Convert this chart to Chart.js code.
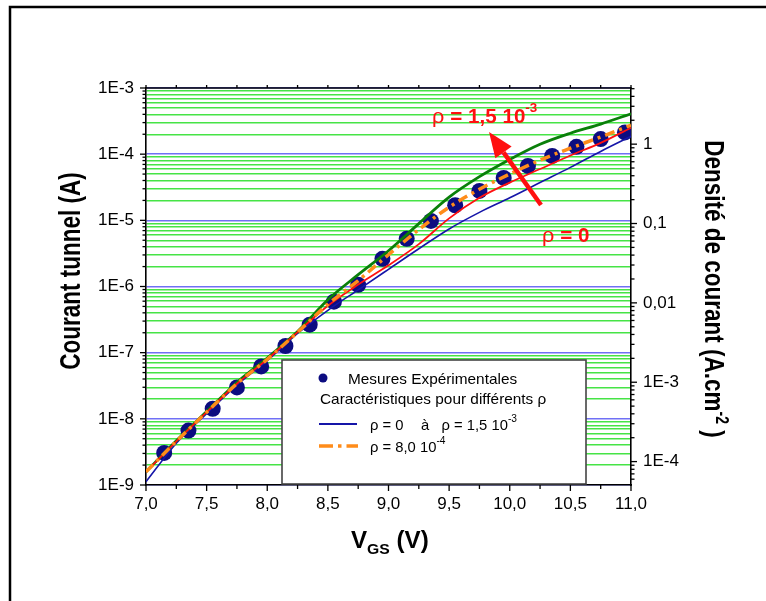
<!DOCTYPE html>
<html>
<head>
<meta charset="utf-8">
<script src="https://cdn.jsdelivr.net/npm/chart.js@4.4.0/dist/chart.umd.min.js"></script>
<style>
  html, body { margin: 0; padding: 0; background: #fff; }
  canvas { display: block; }
</style>
</head>
<body>
<canvas id="chart" width="766" height="601"></canvas>
<script>
// mesures experimentales
const vgsMesures = [7.15, 7.35, 7.55, 7.75, 7.95, 8.15, 8.35, 8.55, 8.75, 8.95, 9.15, 9.35, 9.55, 9.75, 9.95, 10.15, 10.35, 10.55, 10.75, 10.95];
const courantMesures = [3.05e-9, 6.65e-9, 1.42e-8, 2.98e-8, 6.2e-8, 1.26e-7, 2.65e-7, 5.9e-7, 1.06e-6, 2.62e-6, 5.25e-6, 9.8e-6, 1.69e-5, 2.78e-5, 4.38e-5, 6.65e-5, 9.4e-5, 1.29e-4, 1.69e-4, 2.13e-4];

// caracteristiques simulees
const vgsCourbes = [7.0, 7.25, 7.5, 7.75, 8.0, 8.25, 8.5, 8.75, 9.0, 9.25, 9.5, 9.75, 10.0, 10.25, 10.5, 10.75, 11.0];
const courantBleu = [1.12e-9, 4.27e-9, 1.20e-8, 3.24e-8, 7.59e-8, 1.95e-7, 4.37e-7, 8.91e-7, 1.82e-6, 3.72e-6, 7.41e-6, 1.32e-5, 2.19e-5, 3.72e-5, 6.31e-5, 1.10e-4, 1.86e-4];
const courantRho0 = [1.58e-9, 4.57e-9, 1.26e-8, 3.39e-8, 7.94e-8, 2.04e-7, 5.13e-7, 1.07e-6, 2.09e-6, 4.37e-6, 1.07e-5, 2.19e-5, 3.72e-5, 5.96e-5, 9.55e-5, 1.48e-4, 2.51e-4];
const courantRho8 = [1.58e-9, 4.57e-9, 1.26e-8, 3.39e-8, 7.94e-8, 2.04e-7, 5.37e-7, 1.23e-6, 3.02e-6, 7.24e-6, 1.58e-5, 2.95e-5, 5.01e-5, 8.13e-5, 1.23e-4, 1.82e-4, 2.75e-4];
const courantRho15 = [1.58e-9, 4.68e-9, 1.29e-8, 3.55e-8, 8.32e-8, 2.09e-7, 6.31e-7, 1.51e-6, 3.47e-6, 8.91e-6, 2.24e-5, 4.57e-5, 8.32e-5, 1.41e-4, 2.07e-4, 2.85e-4, 4.07e-4];

// axes
const xTickLabels = ["7,0", "7,5", "8,0", "8,5", "9,0", "9,5", "10,0", "10,5", "11,0"];
const yDecades = [1e-9, 1e-8, 1e-7, 1e-6, 1e-5, 1e-4, 1e-3];
const yTickLabels = ["1E-9", "1E-8", "1E-7", "1E-6", "1E-5", "1E-4", "1E-3"];
const y2Decades = [1e-4, 1e-3, 1e-2, 1e-1, 1];
const y2TickLabels = ["1E-4", "1E-3", "0,01", "0,1", "1"];

const FONT = "'Liberation Sans', Arial, sans-serif";
const NAVY = "#0c0c80";
const BLEU = "#1515a8";
const ROUGE = "#ff1010";
const VERT = "#0a7f0a";
const ORANGE = "#ff8c1a";

const toXY = (xs, ys) => xs.map((x, i) => ({ x: x, y: ys[i] }));
const isDecade = (v) => Math.abs(Math.log10(v) - Math.round(Math.log10(v))) < 1e-6;

// valeurs 1..9 x 10^n entre min et max, pour les graduations log
const logTicks = (min, max) => {
  const out = [];
  for (let e = Math.floor(Math.log10(min)); e <= Math.ceil(Math.log10(max)); e++) {
    for (let m = 1; m <= 9; m++) {
      const v = m * Math.pow(10, e);
      if (v >= min * 0.9999 && v <= max * 1.0001) out.push(v);
    }
  }
  return out;
};

const labelFor = (v, decades, labels) => {
  const i = decades.findIndex((d) => Math.abs(Math.log10(d) - Math.log10(v)) < 1e-6);
  return i >= 0 ? labels[i] : "";
};

// texte en morceaux (exposants, indices), etire horizontalement de sx
const richWidth = (ctx, parts) =>
  parts.reduce((w, p) => {
    ctx.font = p.font;
    return w + ctx.measureText(p.t).width;
  }, 0);

const drawRich = (ctx, parts, x, y, sx, rot, center) => {
  ctx.save();
  ctx.translate(x, y);
  ctx.scale(sx, 1);
  if (rot) ctx.rotate(rot);
  ctx.textBaseline = "alphabetic";
  ctx.textAlign = "left";
  let cx = center ? -richWidth(ctx, parts) / 2 : 0;
  parts.forEach((p) => {
    ctx.font = p.font;
    ctx.fillStyle = p.color || "#000";
    ctx.fillText(p.t, cx, p.dy || 0);
    cx += ctx.measureText(p.t).width;
  });
  ctx.restore();
};

const habillage = {
  id: "habillage",
  beforeDraw(chart) {
    const ctx = chart.ctx;
    ctx.save();
    ctx.fillStyle = "#fff";
    ctx.fillRect(0, 0, chart.width, chart.height);
    ctx.strokeStyle = "#000";
    ctx.lineWidth = 2.5;
    ctx.beginPath();
    ctx.moveTo(10, chart.height + 5);
    ctx.lineTo(10, 7);
    ctx.lineTo(chart.width + 5, 7);
    ctx.stroke();
    ctx.restore();
  },
  afterDatasetsDraw(chart) {
    const { ctx, chartArea: a, scales } = chart;
    ctx.save();
    ctx.strokeStyle = "#000";
    ctx.lineWidth = 1.6;

    // cadre haut
    ctx.beginPath();
    ctx.moveTo(a.left, a.top);
    ctx.lineTo(a.right, a.top);
    ctx.stroke();

    // graduations x (bas et haut)
    ctx.lineWidth = 1.3;
    for (let v = 7; v <= 11.0001; v += 0.25) {
      const px = scales.x.getPixelForValue(v);
      const major = Math.abs(v * 2 - Math.round(v * 2)) < 1e-6;
      ctx.beginPath();
      ctx.moveTo(px, a.bottom);
      ctx.lineTo(px, a.bottom + (major ? 6 : 4));
      ctx.moveTo(px, a.top);
      ctx.lineTo(px, a.top - 3);
      ctx.stroke();
    }
    // graduations y gauche
    scales.y.ticks.forEach((t) => {
      const py = scales.y.getPixelForValue(t.value);
      ctx.beginPath();
      ctx.moveTo(a.left, py);
      ctx.lineTo(a.left - (isDecade(t.value) ? 6 : 3.5), py);
      ctx.stroke();
    });
    // graduations y droite
    scales.y2.ticks.forEach((t) => {
      const py = scales.y2.getPixelForValue(t.value);
      ctx.beginPath();
      ctx.moveTo(a.right, py);
      ctx.lineTo(a.right + (isDecade(t.value) ? 6 : 3.5), py);
      ctx.stroke();
    });

    // legende
    ctx.fillStyle = "#fff";
    ctx.fillRect(282, 360, 304, 124);
    ctx.strokeStyle = "#444";
    ctx.lineWidth = 1.6;
    ctx.strokeRect(282, 360, 304, 124);

    ctx.fillStyle = NAVY;
    ctx.beginPath();
    ctx.arc(323, 378, 4.5, 0, Math.PI * 2);
    ctx.fill();
    const f = "14.5px " + FONT;
    const fs = "10px " + FONT;
    drawRich(ctx, [{ t: "Mesures Expérimentales", font: f }], 348, 383.5, 1.06);
    drawRich(ctx, [{ t: "Caractéristiques pour différents ρ", font: f }], 320, 403.5, 1.06);

    ctx.strokeStyle = BLEU;
    ctx.lineWidth = 1.8;
    ctx.beginPath();
    ctx.moveTo(319, 424);
    ctx.lineTo(357, 424);
    ctx.stroke();
    drawRich(ctx, [{ t: "ρ = 0", font: f }], 370, 430, 1.02);
    drawRich(ctx, [{ t: "à", font: f }], 421, 430, 1.02);
    drawRich(ctx, [{ t: "ρ = 1,5 10", font: f }, { t: "-3", font: fs, dy: -8 }], 441.5, 430, 1.02);

    ctx.strokeStyle = ORANGE;
    ctx.lineWidth = 3.5;
    ctx.setLineDash([14, 5, 3.5, 5]);
    ctx.beginPath();
    ctx.moveTo(319, 446);
    ctx.lineTo(358, 446);
    ctx.stroke();
    ctx.setLineDash([]);
    drawRich(ctx, [{ t: "ρ = 8,0 10", font: f }, { t: "-4", font: fs, dy: -8 }], 370, 451.5, 1.02);

    // annotations rouges
    drawRich(ctx, [
      { t: "ρ ", font: "21px " + FONT, color: ROUGE },
      { t: "= 1,5 10", font: "bold 20px " + FONT, color: ROUGE },
      { t: "-3", font: "bold 13px " + FONT, color: ROUGE, dy: -11 },
    ], 432, 123, 1.03);
    drawRich(ctx, [
      { t: "ρ ", font: "21px " + FONT, color: ROUGE },
      { t: "= 0", font: "bold 20px " + FONT, color: ROUGE },
    ], 542, 242, 1.03);

    // fleche
    const x0 = 541, y0 = 205, x1 = 489, y1 = 132;
    const ang = Math.atan2(y1 - y0, x1 - x0);
    const hl = 25, hw = 10;
    const bx = x1 - hl * Math.cos(ang), by = y1 - hl * Math.sin(ang);
    ctx.strokeStyle = ROUGE;
    ctx.fillStyle = ROUGE;
    ctx.lineWidth = 4.5;
    ctx.beginPath();
    ctx.moveTo(x0, y0);
    ctx.lineTo(bx, by);
    ctx.stroke();
    ctx.beginPath();
    ctx.moveTo(x1, y1);
    ctx.lineTo(bx + hw * Math.sin(ang), by - hw * Math.cos(ang));
    ctx.lineTo(bx - hw * Math.sin(ang), by + hw * Math.cos(ang));
    ctx.closePath();
    ctx.fill();

    // titres des axes
    drawRich(ctx, [{ t: "Courant tunnel (A)", font: "bold 22.5px " + FONT }], 80, 271, 1.3, -Math.PI / 2, true);
    drawRich(ctx, [
      { t: "Densité de courant (A.cm", font: "bold 22.5px " + FONT },
      { t: "-2", font: "bold 14px " + FONT, dy: -9 },
      { t: " )", font: "bold 22.5px " + FONT },
    ], 705, 289, 1.25, Math.PI / 2, true);
    drawRich(ctx, [
      { t: "V", font: "bold 23px " + FONT },
      { t: "GS", font: "bold 15px " + FONT, dy: 6 },
      { t: " (V)", font: "bold 23px " + FONT },
    ], 351, 548, 1.05);
    ctx.restore();
  },
};

const ctx = document.getElementById("chart");
new Chart(ctx, {
  type: "line",
  data: {
    datasets: [
      {
        label: "rho = 8,0 10-4",
        data: toXY(vgsCourbes, courantRho8),
        borderColor: ORANGE,
        borderWidth: 3.5,
        borderDash: [10, 5, 3, 5],
        pointRadius: 0,
        cubicInterpolationMode: "monotone",
        yAxisID: "y",
      },
      {
        label: "rho = 0",
        data: toXY(vgsCourbes, courantRho0),
        borderColor: ROUGE,
        borderWidth: 1.8,
        pointRadius: 0,
        cubicInterpolationMode: "monotone",
        yAxisID: "y",
      },
      {
        label: "rho = 1,5 10-3",
        data: toXY(vgsCourbes, courantRho15),
        borderColor: VERT,
        borderWidth: 2.8,
        pointRadius: 0,
        cubicInterpolationMode: "monotone",
        yAxisID: "y",
      },
      {
        label: "bleu",
        data: toXY(vgsCourbes, courantBleu),
        borderColor: BLEU,
        borderWidth: 1.6,
        pointRadius: 0,
        cubicInterpolationMode: "monotone",
        yAxisID: "y",
      },
      {
        label: "Mesures Expérimentales",
        data: toXY(vgsMesures, courantMesures),
        showLine: false,
        pointRadius: 8,
        pointBackgroundColor: NAVY,
        pointBorderColor: NAVY,
        pointBorderWidth: 0,
        yAxisID: "y",
      },
    ],
  },
  options: {
    responsive: false,
    animation: false,
    events: [],
    layout: { padding: { top: 88, left: 0, right: 0, bottom: 0 }, autoPadding: false },
    plugins: { legend: { display: false }, tooltip: { enabled: false } },
    scales: {
      x: {
        type: "linear",
        position: "bottom",
        min: 7,
        max: 11,
        afterFit: (s) => { s.height = 116; },
        grid: { display: false, drawTicks: false },
        border: { display: true, color: "#000", width: 1.6 },
        ticks: {
          stepSize: 0.5,
          padding: 9,
          autoSkip: false,
          maxRotation: 0,
          color: "#000",
          font: { family: FONT, size: 17 },
          callback: (v) => xTickLabels[Math.round((v - 7) * 2)] || "",
        },
      },
      y: {
        type: "logarithmic",
        position: "left",
        min: 1e-9,
        max: 1e-3,
        afterFit: (s) => { s.width = 146; },
        afterBuildTicks: (s) => { s.ticks = logTicks(1e-9, 1e-3).map((v) => ({ value: v })); },
        grid: {
          drawTicks: false,
          color: (c) => (c.tick && isDecade(c.tick.value) ? "rgb(112,112,245)" : "rgb(70,228,70)"),
          lineWidth: (c) => (c.tick && isDecade(c.tick.value) ? 1.6 : 1.4),
        },
        border: { display: true, color: "#000", width: 1.6 },
        ticks: {
          autoSkip: false,
          padding: 12,
          color: "#000",
          font: { family: FONT, size: 17 },
          callback: (v) => labelFor(v, yDecades, yTickLabels),
        },
      },
      y2: {
        type: "logarithmic",
        position: "right",
        min: 5.07e-5,
        max: 5.1,
        afterFit: (s) => { s.width = 135; },
        afterBuildTicks: (s) => { s.ticks = logTicks(5.07e-5, 5.1).map((v) => ({ value: v })); },
        grid: { display: false, drawTicks: false },
        border: { display: true, color: "#000", width: 1.6 },
        ticks: {
          autoSkip: false,
          padding: 12,
          color: "#000",
          font: { family: FONT, size: 17 },
          callback: (v) => labelFor(v, y2Decades, y2TickLabels),
        },
      },
    },
  },
  plugins: [habillage],
});
</script>
</body>
</html>
